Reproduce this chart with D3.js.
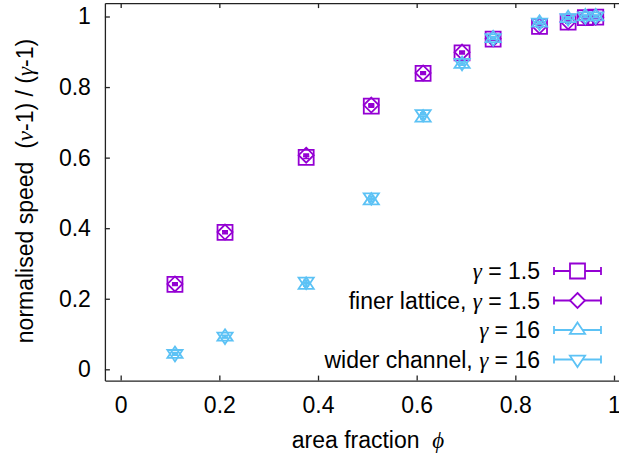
<!DOCTYPE html>
<html>
<head>
<meta charset="utf-8">
<script src="https://cdn.jsdelivr.net/npm/d3@7"></script>
<style>
  body { margin: 0; background: #fff; }
  svg { display: block; }
  text { font-family: "Liberation Sans", Arial, Helvetica, sans-serif; font-size: 23px; fill: #000; }
  .greek { font-family: "Liberation Serif", "Times New Roman", serif; font-style: italic; }
</style>
</head>
<body>
<svg id="chart" width="619" height="458"></svg>
<script>
// area fraction values (same for every run)
const phi = [0.110, 0.2115, 0.376, 0.508, 0.613, 0.692, 0.755, 0.849, 0.907, 0.942, 0.963];

// normalised speed (nu-1)/(gamma-1)
const gamma15 = [0.241, 0.388, 0.601, 0.746, 0.839, 0.897, 0.936, 0.972, 0.984, 0.997, 0.998];
const finer15 = [0.242, 0.389, 0.607, 0.749, 0.840, 0.899, 0.937, 0.973, 0.985, 0.997, 0.998];
const gamma16 = [0.043, 0.092, 0.239, 0.478, 0.713, 0.865, 0.938, 0.982, 0.995, 1.000, 1.000];
const wider16 = [0.044, 0.093, 0.249, 0.488, 0.724, 0.869, 0.939, 0.983, 0.996, 1.001, 1.001];

// error bars (small, mostly hidden inside the markers)
const err = [0.003, 0.003, 0.003, 0.003, 0.003, 0.003, 0.003, 0.003, 0.003, 0.003, 0.003];

const xTicks = [0, 0.2, 0.4, 0.6, 0.8, 1];
const yTicks = [0, 0.2, 0.4, 0.6, 0.8, 1];

const purple = "#9400d3";
const sky = "#5cc2f5";

const series = [
  { name: ["", "γ", " = 1.5"], values: gamma15, color: purple, shape: "square" },
  { name: ["finer lattice, ", "γ", " = 1.5"], values: finer15, color: purple, shape: "diamond" },
  { name: ["", "γ", " = 16"], values: gamma16, color: sky, shape: "triangle" },
  { name: ["wider channel, ", "γ", " = 16"], values: wider16, color: sky, shape: "invtriangle" }
];

const svg = d3.select("#chart");

const x = d3.scaleLinear().domain([-0.032, 1.03]).range([104.9, 628.8]);
const y = d3.scaleLinear().domain([-0.032, 1.038]).range([380.6, 3.1]);

const fmt = d => String(+d.toFixed(1));

// marker outlines around a centre
function markerPath(shape, cx, cy) {
  const p = d3.path();
  const s = 7.5;
  if (shape === "square") {
    p.rect(cx - s, cy - s, 2 * s, 2 * s);
  } else if (shape === "diamond") {
    p.moveTo(cx, cy - s); p.lineTo(cx + s, cy); p.lineTo(cx, cy + s); p.lineTo(cx - s, cy); p.closePath();
  } else if (shape === "triangle") {
    p.moveTo(cx, cy - 7.6); p.lineTo(cx + 7.6, cy + 3.8); p.lineTo(cx - 7.6, cy + 3.8); p.closePath();
  } else {
    p.moveTo(cx, cy + 7.6); p.lineTo(cx + 7.6, cy - 3.8); p.lineTo(cx - 7.6, cy - 3.8); p.closePath();
  }
  return p.toString();
}

// axes (ticks point inwards)
svg.append("g")
  .attr("transform", `translate(0,${y.range()[0]})`)
  .call(d3.axisBottom(x).tickValues(xTicks).tickFormat(fmt).tickSizeInner(-5).tickSizeOuter(0).tickPadding(16))
  .call(g => g.selectAll("text").attr("font-size", null).attr("font-family", null));

svg.append("g")
  .attr("transform", `translate(0,${y.range()[1]})`)
  .call(d3.axisTop(x).tickValues(xTicks).tickFormat("").tickSizeInner(-5).tickSizeOuter(0));

svg.append("g")
  .attr("transform", `translate(${x.range()[0]},0)`)
  .call(d3.axisLeft(y).tickValues(yTicks).tickFormat(fmt).tickSizeInner(-5).tickSizeOuter(0).tickPadding(14))
  .call(g => g.selectAll("text").attr("font-size", null).attr("font-family", null));

svg.selectAll(".domain, .tick line").attr("stroke", "#222").attr("stroke-width", 1.3);

// data: error bars + markers
series.forEach(s => {
  const g = svg.append("g").attr("stroke", s.color).attr("fill", "none").attr("stroke-width", 1.8);
  s.values.forEach((v, i) => {
    const cx = x(phi[i]), top = y(v + err[i]), bot = y(v - err[i]);
    g.append("path")
      .attr("d", `M${cx},${top}V${bot}M${cx - 3},${top}H${cx + 3}M${cx - 3},${bot}H${cx + 3}`);
    g.append("path").attr("d", markerPath(s.shape, cx, y(v)));
  });
});

// axis titles
svg.append("text")
  .attr("x", 368).attr("y", 448)
  .attr("text-anchor", "middle")
  .style("white-space", "pre")
  .call(t => {
    t.append("tspan").text("area fraction  ");
    t.append("tspan").attr("class", "greek").text("ϕ");
  });

svg.append("text")
  .attr("transform", "translate(33,191) rotate(-90)")
  .attr("text-anchor", "middle")
  .style("white-space", "pre")
  .call(t => {
    t.append("tspan").text("normalised speed  (");
    t.append("tspan").attr("class", "greek").text("ν");
    t.append("tspan").text("-1) / (");
    t.append("tspan").attr("class", "greek").text("γ");
    t.append("tspan").text("-1)");
  });

// legend
const legX = 540, sampleL = 554, sampleR = 601, legY0 = 271, legDy = 29.5;
series.forEach((s, i) => {
  const ly = legY0 + i * legDy;
  const t = svg.append("text")
    .attr("x", legX).attr("y", ly + 8)
    .attr("text-anchor", "end")
    .style("white-space", "pre");
  if (s.name[0]) t.append("tspan").text(s.name[0]);
  t.append("tspan").attr("class", "greek").text(s.name[1]);
  t.append("tspan").text(s.name[2]);

  const g = svg.append("g").attr("stroke", s.color).attr("fill", "none").attr("stroke-width", 1.8);
  g.append("path").attr("d", `M${sampleL},${ly}H${sampleR}M${sampleL},${ly - 4}V${ly + 4}M${sampleR},${ly - 4}V${ly + 4}`);
  g.append("path").attr("d", markerPath(s.shape, (sampleL + sampleR) / 2, ly))
    .attr("fill", "#fff");
});
</script>
</body>
</html>
